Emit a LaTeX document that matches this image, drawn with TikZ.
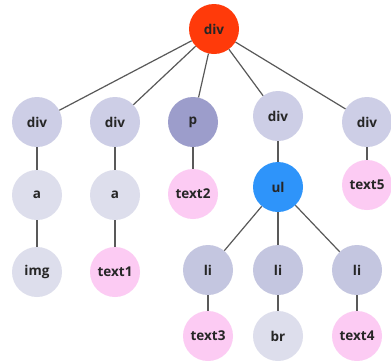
\documentclass[tikz,border=0pt]{standalone}
\usepackage{fontspec}
\setmainfont{Open Sans}
\begin{document}
\begin{tikzpicture}[x=1pt,y=-1pt,
  tnode/.style={circle,minimum size=50pt,inner sep=0pt,text=black!85,
    font=\fontsize{13.5}{13.5}\selectfont\bfseries},
  rootc/.style={tnode,fill=rootred},
  divc/.style={tnode,fill=divlav},
  pc/.style={tnode,fill=plav},
  ac/.style={tnode,fill=alav},
  txc/.style={tnode,fill=txpink},
  ulc/.style={tnode,fill=ulblue},
  lic/.style={tnode,fill=lilav},
  edge/.style={draw=black!65,line width=1.2pt}]
\definecolor{rootred}{RGB}{255,58,10}
\definecolor{divlav}{RGB}{205,206,230}
\definecolor{plav}{RGB}{156,157,203}
\definecolor{alav}{RGB}{221,222,236}
\definecolor{txpink}{RGB}{252,203,243}
\definecolor{ulblue}{RGB}{46,148,250}
\definecolor{lilav}{RGB}{196,198,224}
\useasboundingbox[fill=white] (0,0) rectangle (391,360);
% root
\node[rootc] (root) at (214,29) {div};
% first level
\node[divc] (d1) at (37,122) {div};
\node[divc] (d2) at (115,122) {div};
\node[pc]   (p)  at (193,122) {p};
\node[divc] (d4) at (278,116) {div};
\node[divc] (d5) at (367,122) {div};
% second level
\node[ac]  (a1) at (37,195) {a};
\node[ac]  (a2) at (115,195) {a};
\node[txc] (t2) at (193,194) {text2};
\node[ulc] (ul) at (278,187) {ul};
\node[txc] (t5) at (367,185) {text5};
% third level
\node[ac]  (img) at (37,272) {img};
\node[txc] (t1)  at (115,272) {text1};
\node[lic] (li1) at (208,270) {li};
\node[lic] (li2) at (278,270) {li};
\node[lic] (li3) at (357,270) {li};
% fourth level
\node[txc] (t3) at (208,336) {text3};
\node[ac]  (br) at (278,336) {br};
\node[txc] (t4) at (357,336) {text4};
% connectors
\foreach \c in {d1,d2,p,d4,d5} \draw[edge] (root) -- (\c);
\draw[edge] (d1) -- (a1);
\draw[edge] (a1) -- (img);
\draw[edge] (d2) -- (a2);
\draw[edge] (a2) -- (t1);
\draw[edge] (p) -- (t2);
\draw[edge] (d4) -- (ul);
\draw[edge] (d5) -- (t5);
\foreach \c in {li1,li2,li3} \draw[edge] (ul) -- (\c);
\draw[edge] (li1) -- (t3);
\draw[edge] (li2) -- (br);
\draw[edge] (li3) -- (t4);
\end{tikzpicture}
\end{document}
